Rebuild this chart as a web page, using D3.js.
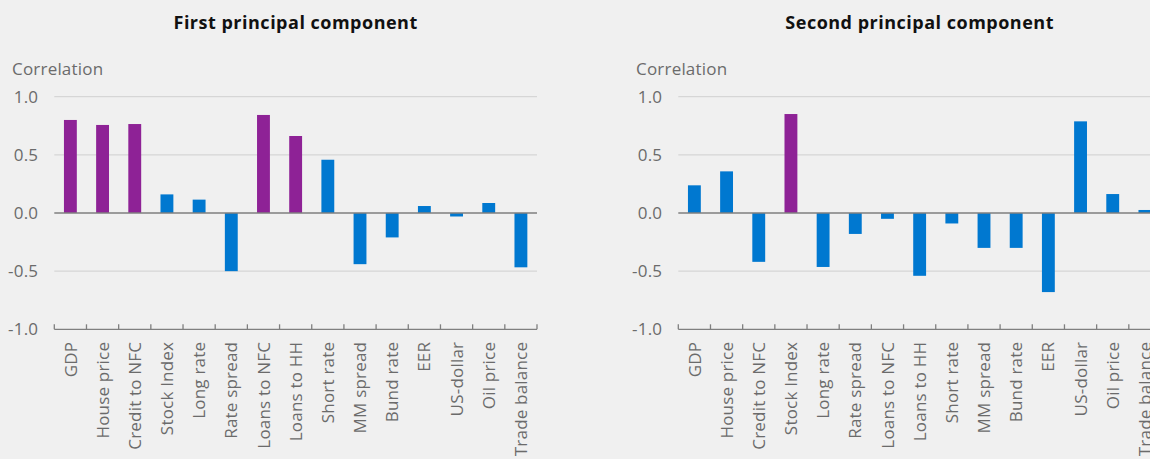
<!DOCTYPE html>
<html>
<head>
<meta charset="utf-8">
<script src="https://cdn.jsdelivr.net/npm/d3@7"></script>
<style>
  body { margin: 0; background: #f0f0f0; }
  svg { display: block; font-family: "Open Sans", sans-serif; }
</style>
</head>
<body>
<div id="chart"></div>
<script>
// data
var categories = ["GDP", "House price", "Credit to NFC", "Stock Index", "Long rate", "Rate spread",
  "Loans to NFC", "Loans to HH", "Short rate", "MM spread", "Bund rate", "EER", "US-dollar",
  "Oil price", "Trade balance"]

var firstValues = [0.80, 0.757, 0.765, 0.16, 0.115, -0.50, 0.843, 0.662, 0.458, -0.44, -0.21,
  0.06, -0.03, 0.086, -0.467]
var secondValues = [0.238, 0.358, -0.42, 0.851, -0.464, -0.18, -0.05, -0.54, -0.09, -0.30,
  -0.30, -0.68, 0.788, 0.163, 0.026]

var firstHighlight = ["GDP", "House price", "Credit to NFC", "Loans to NFC", "Loans to HH"]
var secondHighlight = ["Stock Index"]

var titles = ["First principal component", "Second principal component"]
var yTicks = [-1.0, -0.5, 0.0, 0.5, 1.0]
var yLabel = "Correlation"

var width = 1150
var height = 459
var panelOffset = 624
var margin = {top: 96.7, left: 54.3, right: 38, bottom: 129.7}   // right/bottom inside a 575 wide panel
var panelW = 575

var blue = "#0078d0"
var purple = "#8e2296"
var gray = "#6b6b6b"
var fontSize = 17
var spacing = "0.2px"

var svg = d3.select("#chart").append("svg")
  .attr("width", width)
  .attr("height", height)

svg.append("rect").attr("width", width).attr("height", height).attr("fill", "#f0f0f0")

var x = d3.scaleBand()
  .domain(categories)
  .range([margin.left, panelW - margin.right])
  .paddingInner(0.6)
  .paddingOuter(0.3)

var y = d3.scaleLinear()
  .domain([-1, 1])
  .range([height - margin.bottom, margin.top])

function drawPanel(g, title, values, highlight) {
  var x0 = x.range()[0], x1 = x.range()[1]

  // title
  g.append("text")
    .attr("x", (x0 + x1) / 2)
    .attr("y", 29)
    .attr("text-anchor", "middle")
    .attr("font-weight", "bold")
    .attr("font-size", 18)
    .attr("letter-spacing", "0.5px")
    .attr("fill", "#111")
    .text(title)

  g.append("text")
    .attr("x", 12)
    .attr("y", 75)
    .attr("font-size", fontSize)
    .attr("letter-spacing", spacing)
    .attr("fill", gray)
    .text(yLabel)

  // gridlines
  g.append("g")
    .selectAll("line")
    .data(yTicks.filter(d => d != 0 && d != -1))
    .join("line")
      .attr("x1", x0).attr("x2", x1)
      .attr("y1", d => y(d)).attr("y2", d => y(d))
      .attr("stroke", "#d6d6d6")
      .attr("stroke-width", 1.3)

  // y axis labels
  var gy = g.append("g")
    .attr("transform", `translate(${x0},0)`)
    .call(d3.axisLeft(y).tickValues(yTicks).tickSize(0).tickPadding(16).tickFormat(d => d.toFixed(1)))
  gy.select(".domain").remove()
  gy.selectAll("text")
    .attr("font-size", fontSize)
    .attr("letter-spacing", spacing)
    .attr("font-family", "Open Sans, sans-serif")
    .attr("fill", gray)

  // bars
  g.append("g")
    .selectAll("rect")
    .data(values.map((v, i) => ({name: categories[i], value: v})))
    .join("rect")
      .attr("x", d => x(d.name))
      .attr("width", x.bandwidth())
      .attr("y", d => y(Math.max(0, d.value)))
      .attr("height", d => Math.abs(y(d.value) - y(0)))
      .attr("fill", d => highlight.includes(d.name) ? purple : blue)

  // zero line
  g.append("line")
    .attr("x1", x0).attr("x2", x1)
    .attr("y1", y(0)).attr("y2", y(0))
    .attr("stroke", "#7f7f7f")
    .attr("stroke-width", 1.3)

  // category axis at the bottom, ticks at the category boundaries
  var bottom = y(-1)
  g.append("line")
    .attr("x1", x0).attr("x2", x1)
    .attr("y1", bottom).attr("y2", bottom)
    .attr("stroke", "#7f7f7f")
    .attr("stroke-width", 1.3)

  var bounds = categories.map(c => x(c) + x.bandwidth() / 2 - x.step() / 2)
  bounds.push(x1)
  g.append("g")
    .selectAll("line")
    .data(bounds)
    .join("line")
      .attr("x1", d => d).attr("x2", d => d)
      .attr("y1", bottom).attr("y2", bottom - 5)
      .attr("stroke", "#7f7f7f")
      .attr("stroke-width", 1.3)

  g.append("g")
    .selectAll("text")
    .data(categories)
    .join("text")
      .attr("transform", d => `translate(${x(d) + x.bandwidth() / 2},${bottom + 12.5}) rotate(-90)`)
      .attr("dy", "0.36em")
      .attr("text-anchor", "end")
      .attr("font-size", fontSize)
      .attr("letter-spacing", spacing)
      .attr("fill", gray)
      .text(d => d)
}

drawPanel(svg.append("g"), titles[0], firstValues, firstHighlight)
drawPanel(svg.append("g").attr("transform", `translate(${panelOffset},0)`), titles[1], secondValues, secondHighlight)
</script>
</body>
</html>
